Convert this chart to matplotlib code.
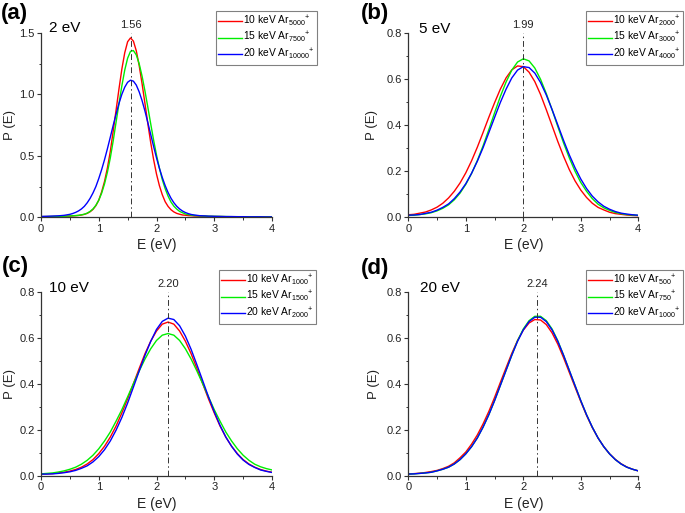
import matplotlib
matplotlib.use('Agg')
import matplotlib.pyplot as plt
from matplotlib.ticker import MultipleLocator

plt.rcParams['font.family'] = ['Liberation Sans', 'DejaVu Sans']
plt.rcParams['mathtext.fontset'] = 'custom'
plt.rcParams['mathtext.rm'] = 'Liberation Sans'
plt.rcParams['mathtext.it'] = 'Liberation Sans:italic'
plt.rcParams['mathtext.bf'] = 'Liberation Sans:bold'

# energy grids (eV)
E_a = [0.0, 0.1, 0.2, 0.3, 0.4, 0.5,
       0.55, 0.6, 0.65, 0.7, 0.75, 0.8, 0.85, 0.9, 0.95, 1.0,
       1.05, 1.1, 1.15, 1.2, 1.25, 1.3, 1.35, 1.4, 1.45, 1.5,
       1.55, 1.6, 1.65, 1.7, 1.75, 1.8, 1.85, 1.9, 1.95, 2.0,
       2.05, 2.1, 2.15, 2.2, 2.25, 2.3, 2.35, 2.4, 2.45, 2.5,
       2.55, 2.6, 2.65, 2.7, 2.75, 2.8, 2.85, 2.9, 2.95, 3.0,
       3.1, 3.2, 3.3, 3.4, 3.5, 3.6, 3.7, 3.8, 3.9, 4.0]
E_bcd = [round(0.1 * i, 1) for i in range(41)]

# (a) 2 eV per atom
red_a = [0.005, 0.006, 0.006, 0.007, 0.009, 0.010,
         0.012, 0.013, 0.015, 0.019, 0.024, 0.032, 0.045, 0.064, 0.095, 0.139,
         0.207, 0.292, 0.402, 0.536, 0.701, 0.872, 1.044, 1.206, 1.339, 1.429,
         1.460, 1.434, 1.355, 1.235, 1.088, 0.927, 0.762, 0.607, 0.470, 0.352,
         0.258, 0.184, 0.127, 0.089, 0.062, 0.044, 0.032, 0.025, 0.019, 0.017,
         0.014, 0.013, 0.011, 0.010, 0.009, 0.008, 0.008, 0.007, 0.007, 0.006,
         0.006, 0.005, 0.005, 0.004, 0.004, 0.003, 0.003, 0.003, 0.003, 0.002]
green_a = [0.005, 0.006, 0.007, 0.007, 0.009, 0.011,
           0.012, 0.014, 0.016, 0.020, 0.025, 0.034, 0.048, 0.068, 0.097, 0.139,
           0.196, 0.272, 0.367, 0.483, 0.622, 0.774, 0.925, 1.070, 1.198, 1.295,
           1.351, 1.357, 1.322, 1.250, 1.149, 1.028, 0.896, 0.760, 0.628, 0.507,
           0.400, 0.307, 0.233, 0.173, 0.125, 0.091, 0.067, 0.048, 0.037, 0.027,
           0.022, 0.018, 0.015, 0.013, 0.012, 0.011, 0.010, 0.009, 0.008, 0.008,
           0.007, 0.006, 0.005, 0.005, 0.004, 0.004, 0.004, 0.003, 0.003, 0.003]
blue_a = [0.007, 0.008, 0.010, 0.012, 0.016, 0.024,
          0.031, 0.040, 0.052, 0.068, 0.089, 0.118, 0.154, 0.198, 0.250, 0.315,
          0.388, 0.469, 0.558, 0.652, 0.748, 0.839, 0.926, 1.001, 1.059, 1.099,
          1.116, 1.108, 1.076, 1.021, 0.950, 0.865, 0.771, 0.674, 0.577, 0.484,
          0.400, 0.324, 0.258, 0.202, 0.156, 0.119, 0.090, 0.068, 0.051, 0.039,
          0.030, 0.023, 0.019, 0.016, 0.013, 0.012, 0.011, 0.009, 0.009, 0.008,
          0.007, 0.006, 0.006, 0.005, 0.005, 0.004, 0.004, 0.004, 0.003, 0.003]

# (b) 5 eV per atom
red_b = [0.011, 0.013, 0.018, 0.023, 0.032, 0.044, 0.061, 0.084, 0.113, 0.149,
         0.193, 0.245, 0.304, 0.368, 0.434, 0.497, 0.556, 0.605, 0.640, 0.657,
         0.654, 0.630, 0.589, 0.533, 0.467, 0.398, 0.329, 0.265, 0.207, 0.158,
         0.118, 0.086, 0.061, 0.043, 0.032, 0.022, 0.016, 0.013, 0.010, 0.008, 0.007]
green_b = [0.008, 0.009, 0.012, 0.015, 0.020, 0.028, 0.039, 0.054, 0.076, 0.105,
           0.143, 0.190, 0.246, 0.310, 0.380, 0.453, 0.524, 0.587, 0.639, 0.674,
           0.688, 0.679, 0.648, 0.599, 0.537, 0.467, 0.394, 0.323, 0.258, 0.200,
           0.151, 0.113, 0.081, 0.057, 0.041, 0.030, 0.021, 0.016, 0.012, 0.010, 0.008]
blue_b = [0.009, 0.010, 0.012, 0.017, 0.022, 0.031, 0.043, 0.058, 0.081, 0.110,
          0.146, 0.191, 0.243, 0.302, 0.367, 0.433, 0.498, 0.556, 0.605, 0.639,
          0.654, 0.650, 0.626, 0.585, 0.531, 0.468, 0.401, 0.334, 0.271, 0.215,
          0.166, 0.125, 0.092, 0.067, 0.048, 0.035, 0.025, 0.018, 0.014, 0.011, 0.009]

# (c) 10 eV per atom
red_c = [0.007, 0.008, 0.009, 0.012, 0.015, 0.020, 0.027, 0.037, 0.051, 0.070,
         0.096, 0.128, 0.168, 0.216, 0.273, 0.334, 0.400, 0.466, 0.530, 0.585,
         0.629, 0.659, 0.668, 0.659, 0.629, 0.585, 0.530, 0.466, 0.400, 0.334,
         0.273, 0.216, 0.168, 0.128, 0.096, 0.070, 0.051, 0.037, 0.027, 0.020, 0.015]
green_c = [0.008, 0.010, 0.012, 0.016, 0.021, 0.028, 0.037, 0.050, 0.067, 0.089,
           0.117, 0.151, 0.190, 0.237, 0.287, 0.343, 0.400, 0.455, 0.507, 0.552,
           0.588, 0.611, 0.618, 0.611, 0.588, 0.552, 0.507, 0.455, 0.400, 0.343,
           0.287, 0.237, 0.190, 0.151, 0.117, 0.089, 0.067, 0.050, 0.039, 0.031, 0.025]
blue_c = [0.007, 0.007, 0.008, 0.010, 0.013, 0.017, 0.023, 0.032, 0.043, 0.060,
          0.083, 0.113, 0.151, 0.198, 0.253, 0.316, 0.385, 0.455, 0.523, 0.584,
          0.636, 0.671, 0.685, 0.679, 0.652, 0.607, 0.549, 0.482, 0.413, 0.343,
          0.278, 0.219, 0.168, 0.128, 0.094, 0.068, 0.049, 0.036, 0.025, 0.019, 0.014]

# (d) 20 eV per atom
red_d = [0.008, 0.009, 0.011, 0.014, 0.018, 0.023, 0.031, 0.041, 0.056, 0.078,
         0.103, 0.137, 0.177, 0.225, 0.279, 0.340, 0.405, 0.469, 0.532, 0.588,
         0.633, 0.664, 0.679, 0.677, 0.657, 0.621, 0.572, 0.513, 0.449, 0.385,
         0.322, 0.262, 0.209, 0.164, 0.126, 0.095, 0.071, 0.052, 0.038, 0.028, 0.021]
green_d = [0.007, 0.008, 0.010, 0.012, 0.015, 0.021, 0.028, 0.037, 0.051, 0.070,
           0.095, 0.126, 0.164, 0.211, 0.265, 0.326, 0.392, 0.458, 0.524, 0.587,
           0.638, 0.674, 0.693, 0.693, 0.674, 0.638, 0.587, 0.524, 0.458, 0.392,
           0.326, 0.265, 0.211, 0.164, 0.126, 0.095, 0.070, 0.051, 0.037, 0.028, 0.021]
blue_d = [0.007, 0.008, 0.010, 0.012, 0.015, 0.021, 0.028, 0.037, 0.051, 0.070,
          0.095, 0.126, 0.164, 0.211, 0.265, 0.326, 0.392, 0.458, 0.524, 0.584,
          0.634, 0.670, 0.689, 0.689, 0.670, 0.634, 0.584, 0.524, 0.458, 0.392,
          0.326, 0.265, 0.211, 0.164, 0.126, 0.095, 0.070, 0.051, 0.037, 0.028, 0.021]

cluster_sizes = [[5000, 7500, 10000], [2000, 3000, 4000],
                 [1000, 1500, 2000], [500, 750, 1000]]
beam_energies = ['10 keV', '15 keV', '20 keV']
energy_per_atom = ['2 eV', '5 eV', '10 eV', '20 eV']
peak_energy = [1.56, 1.99, 2.20, 2.24]
panel_tags = ['(a)', '(b)', '(c)', '(d)']
colors = ['#ff0000', '#00ee00', '#0000ff']

fig = plt.figure(figsize=(6.85, 5.13), dpi=100)

W, H = 685.0, 513.0
# axes boxes in pixels: left, top, right, bottom
boxes = [(41, 33, 272, 217.3), (408.3, 33, 638.3, 217.3),
         (41, 291.7, 272, 475.7), (408.3, 291.7, 638.3, 475.7)]
legend_corner = [(317, 11), (683, 11), (316, 270), (683, 270)]
tag_pos = [(0.5, 18.5), (361, 19.5), (1.5, 272), (361, 274)]
energy_pos = [(49, 32.5), (419, 33), (49, 292.5), (420, 292.5)]
ylab_x = [-0.108, -0.13, -0.108, -0.125]

data = [(E_a, [red_a, green_a, blue_a], 1.5, 0.5),
        (E_bcd, [red_b, green_b, blue_b], 0.8, 0.2),
        (E_bcd, [red_c, green_c, blue_c], 0.8, 0.2),
        (E_bcd, [red_d, green_d, blue_d], 0.8, 0.2)]

for i, (E, curves, ymax, ystep) in enumerate(data):
    l, t, r, b = boxes[i]
    ax = fig.add_axes([l / W, 1 - b / H, (r - l) / W, (b - t) / H])
    for y, c, be, n in zip(curves, colors, beam_energies, cluster_sizes[i]):
        ax.plot(E, y, color=c, lw=1.0,
                label=be + ' Ar$_{' + str(n) + '}$$^{+}$')
    ax.axvline(peak_energy[i], color='#333333', lw=0.7, dashes=(6, 3, 1.5, 3))
    ax.annotate(f'{peak_energy[i]:.2f}', xy=(peak_energy[i], 1),
                xycoords=('data', 'axes fraction'), xytext=(0, 3.5),
                textcoords='offset points', ha='center', va='baseline',
                fontsize=8, color='#222222')

    ax.set_xlim(0, 4)
    ax.set_ylim(0, ymax)
    ax.xaxis.set_major_locator(MultipleLocator(1))
    ax.xaxis.set_minor_locator(MultipleLocator(0.5))
    ax.yaxis.set_major_locator(MultipleLocator(ystep))
    ax.yaxis.set_minor_locator(MultipleLocator(ystep / 2))
    for s in ['top', 'right']:
        ax.spines[s].set_visible(False)
    for s in ['left', 'bottom']:
        ax.spines[s].set_linewidth(0.9)
        ax.spines[s].set_color('#333333')
    ax.tick_params(which='major', direction='out', length=3, width=0.8,
                   pad=1.5, labelsize=8, colors='#333333', labelcolor='#222222')
    ax.tick_params(which='minor', direction='out', length=1.8, width=0.7,
                   colors='#333333')

    ax.set_xlabel('E (eV)', fontsize=10, color='#222222')
    ax.xaxis.label.set_va('baseline')
    ax.xaxis.set_label_coords(0.5, -0.174)
    ax.set_ylabel('P (E)', fontsize=9.5, color='#222222')
    ax.yaxis.set_label_coords(ylab_x[i], 0.5)

    lx, ly = legend_corner[i]
    leg = ax.legend(loc='upper right', bbox_to_anchor=(lx / W, 1 - ly / H),
                    bbox_transform=fig.transFigure, fontsize=7.4,
                    fancybox=False, edgecolor='#808080', framealpha=1,
                    borderpad=0.25, labelspacing=0.17, handlelength=2.3,
                    handletextpad=0.12, borderaxespad=0)
    leg.get_frame().set_linewidth(0.8)

    tx, ty = tag_pos[i]
    fig.text(tx / W, 1 - ty / H, panel_tags[i], fontsize=16, weight='bold',
             ha='left', va='baseline')
    ex, ey = energy_pos[i]
    fig.text(ex / W, 1 - ey / H, energy_per_atom[i], fontsize=11,
             ha='left', va='baseline')

fig.savefig('out.png', dpi=100)
